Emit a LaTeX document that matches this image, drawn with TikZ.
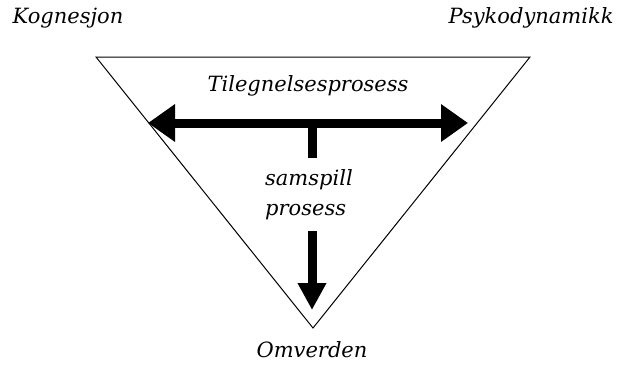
\documentclass[tikz,border=0pt]{standalone}
\usepackage{fontspec}
\setmainfont{DejaVu Serif}
\usetikzlibrary{arrows.meta}
\tikzset{
  lbl/.style={font=\fontsize{21}{30}\selectfont\itshape, inner sep=0pt},
  thick arrow/.style={line width=9pt},
  tri/.style={draw=black, line width=1pt}
}
\begin{document}
\begin{tikzpicture}[x=1pt,y=-1pt]
\useasboundingbox (0,0) rectangle (619,370);
\fill[white] (0,0) rectangle (619,370);
% triangle
\coordinate (tl) at (96,57);
\coordinate (tr) at (530,57);
\coordinate (bt) at (313,328);
\draw[tri] (tl) -- (tr) -- (bt) -- cycle;
% labels
\node[lbl] (kog) at (68,18) {Kognesjon};
\node[lbl] (psy) at (531,18) {Psykodynamikk};
\node[lbl] (til) at (308,86) {Tilegnelsesprosess};
\node[lbl, align=left, anchor=west] (sam) at (265,195) {samspill\\prosess};
\node[lbl] (omv) at (312,350) {Omverden};
% horizontal double arrow
\coordinate (hl) at (148,123);
\coordinate (hr) at (468,123);
\coordinate (hm) at (312,123);
\draw[thick arrow, {Triangle[length=27pt,width=36pt]}-{Triangle[length=27pt,width=36pt]}] (hl) -- (hr);
% vertical
\coordinate (vtop) at (312,158);
\coordinate (vs) at (312,231);
\coordinate (vtip) at (312,310);
\draw[thick arrow] (hm) -- (vtop);
\draw[thick arrow, -{Triangle[length=27pt,width=27pt]}] (vs) -- (vtip);
\end{tikzpicture}
\end{document}
